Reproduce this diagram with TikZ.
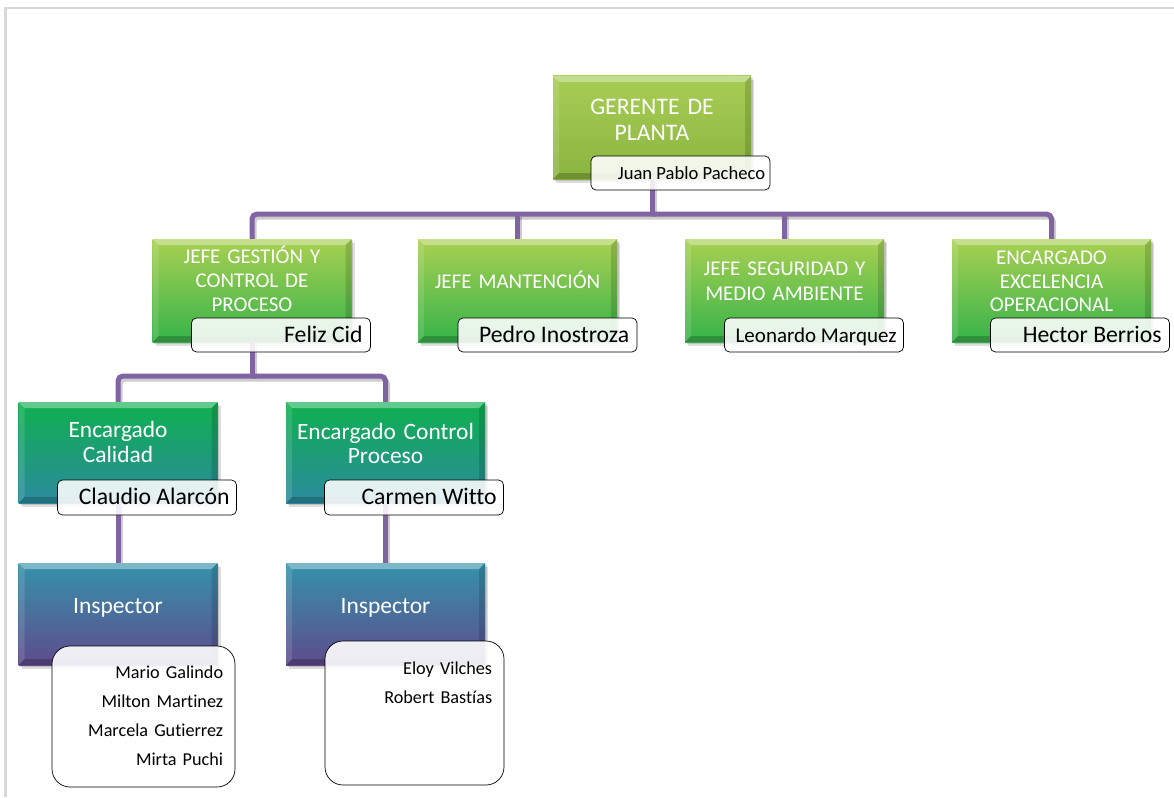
\documentclass[tikz,border=0pt]{standalone}
\usepackage{fontspec}
\setmainfont{Carlito}[Ligatures={NoCommon}]
\usetikzlibrary{shadows,calc}
\pgfdeclarelayer{background}
\pgfdeclarelayer{paper}
\pgfsetlayers{paper,background,main}

\definecolor{linkpurple}{HTML}{8064A2}
\definecolor{gAtop}{HTML}{A8CD55}
\definecolor{gAbot}{HTML}{8AB540}
\definecolor{gBtop}{HTML}{A9D051}
\definecolor{gBbot}{HTML}{36B34A}
\definecolor{gCtop}{HTML}{0FB04F}
\definecolor{gCbot}{HTML}{2B8A9E}
\definecolor{gDtop}{HTML}{3592AA}
\definecolor{gDbot}{HTML}{5F4B8D}

\tikzset{
  bevel/.style={path picture={
    \fill[white,opacity=.35] (path picture bounding box.north west) -- (path picture bounding box.north east)
      -- ([shift={(-6,6)}]path picture bounding box.north east) -- ([shift={(6,6)}]path picture bounding box.north west) -- cycle;
    \fill[white,opacity=.12] (path picture bounding box.north west) -- (path picture bounding box.south west)
      -- ([shift={(6,-6)}]path picture bounding box.south west) -- ([shift={(6,6)}]path picture bounding box.north west) -- cycle;
    \fill[black,opacity=.14] (path picture bounding box.north east) -- (path picture bounding box.south east)
      -- ([shift={(-6,-6)}]path picture bounding box.south east) -- ([shift={(-6,6)}]path picture bounding box.north east) -- cycle;
    \fill[black,opacity=.2] (path picture bounding box.south west) -- (path picture bounding box.south east)
      -- ([shift={(-6,-6)}]path picture bounding box.south east) -- ([shift={(6,-6)}]path picture bounding box.south west) -- cycle;
  }},
  box/.style={inner sep=0pt, bevel,
    drop shadow={shadow xshift=3pt, shadow yshift=-4pt, opacity=.18, fill=black!70},
    drop shadow={shadow xshift=1.5pt, shadow yshift=-2pt, opacity=.2, fill=black!70}},
  lvA/.style={box, minimum width=198pt, minimum height=103pt, top color=gAtop, bottom color=gAbot},
  lvB/.style={box, minimum width=199pt, minimum height=103pt, top color=gBtop, bottom color=gBbot},
  lvC/.style={box, minimum width=199pt, minimum height=101pt, top color=gCtop, bottom color=gCbot},
  lvD/.style={box, minimum width=199pt, minimum height=102pt, top color=gDtop, bottom color=gDbot},
  titletext/.style={text=white, text width=196pt, align=center, anchor=base, inner sep=0pt},
  namebox/.style={draw=black, line width=.7pt, fill=white, fill opacity=.88, rounded corners=5pt,
    minimum width=179pt, minimum height=34pt, inner sep=0pt},
  listbox/.style={draw=black, line width=.7pt, fill=white, fill opacity=.9, rounded corners=18pt, inner sep=0pt},
  nametext/.style={anchor=base east, inner sep=0pt, text=black, font=\fontsize{23.7}{28}\selectfont},
  listtext/.style={anchor=base east, inner sep=0pt, text=black, text width=170pt, align=right,
    font=\fontsize{18.2}{29}\selectfont},
  link/.style={draw=linkpurple, line width=5pt, rounded corners=5pt},
  linkshadow/.style={draw=black, opacity=.2, line width=5pt, rounded corners=5pt},
}

\begin{document}
\begin{tikzpicture}[x=1pt,y=-1pt]
\useasboundingbox (0,0) rectangle (1174,797);
\begin{pgfonlayer}{paper}
  \fill[white] (0,0) rectangle (1174,797);
  % page frame
  \draw[draw=black!15, line width=2.5pt] (1174,8) -- (5.5,8) -- (5.5,797);
\end{pgfonlayer}

% boxes
\node[lvA] (g)  at (652,127.5) {};
\node[lvB] (b1) at (252,290.5) {};
\node[lvB] (b2) at (517.5,290.5) {};
\node[lvB] (b3) at (784.5,290.5) {};
\node[lvB] (b4) at (1051.5,290.5) {};
\node[lvC] (c1) at (118,452.5) {};
\node[lvC] (c2) at (385.5,452.5) {};
\node[lvD] (d1) at (118,614) {};
\node[lvD] (d2) at (385.5,614) {};

\coordinate (bus1) at (652,214);
\coordinate (bus2) at (252,376);

% connectors
\begin{pgfonlayer}{background}
  \begin{scope}[transform canvas={xshift=2pt, yshift=-3pt}]
    \draw[linkshadow] (b1.north) |- (bus1) -| (b4.north);
    \draw[linkshadow] (g.south) -- (bus1);
    \draw[linkshadow] (b2.north) -- (b2.north |- bus1);
    \draw[linkshadow] (b3.north) -- (b3.north |- bus1);
    \draw[linkshadow] (c1.north) |- (bus2) -| (c2.north);
    \draw[linkshadow] (b1.south) -- (bus2);
    \draw[linkshadow] (c1.south) -- (d1.north);
    \draw[linkshadow] (c2.south) -- (d2.north);
  \end{scope}
  \draw[link] (b1.north) |- (bus1) -| (b4.north);
  \draw[link] (g.south) -- (bus1);
  \draw[link] (b2.north) -- (b2.north |- bus1);
  \draw[link] (b3.north) -- (b3.north |- bus1);
  \draw[link] (c1.north) |- (bus2) -| (c2.north);
  \draw[link] (b1.south) -- (bus2);
  \draw[link] (c1.south) -- (d1.north);
  \draw[link] (c2.south) -- (d2.north);
\end{pgfonlayer}

% titles
\node[titletext, font=\fontsize{23.7}{26}\selectfont] (tg) at ($(g.north)+(0,39)$) {GERENTE DE\\PLANTA};
\node[titletext, font=\fontsize{21}{24}\selectfont] (tb1) at ($(b1.north)+(0,25)$) {JEFE GESTIÓN Y\\CONTROL DE\\PROCESO};
\node[titletext, font=\fontsize{21}{24}\selectfont] (tb2) at ($(b2.north)+(0,50)$) {JEFE MANTENCIÓN};
\node[titletext, font=\fontsize{21}{25}\selectfont] (tb3) at ($(b3.north)+(0,37)$) {JEFE SEGURIDAD Y\\MEDIO AMBIENTE};
\node[titletext, font=\fontsize{21}{23.5}\selectfont] (tb4) at ($(b4.north)+(0,26)$) {ENCARGADO\\EXCELENCIA\\OPERACIONAL};
\node[titletext, font=\fontsize{23.4}{25}\selectfont] (tc1) at ($(c1.north)+(0,36)$) {Encargado\\Calidad};
\node[titletext, font=\fontsize{23.4}{23.5}\selectfont] (tc2) at ($(c2.north)+(0,38)$) {Encargado Control\\Proceso};
\node[titletext, font=\fontsize{23.5}{26}\selectfont] (td1) at ($(d1.north)+(0,51)$) {Inspector};
\node[titletext, font=\fontsize{23.5}{26}\selectfont] (td2) at ($(d2.north)+(0,51)$) {Inspector};

% name tags
\node[namebox] (ng)  at (680.5,173) {};
\node[namebox] (nb1) at (281,335) {};
\node[namebox] (nb2) at (547.5,335) {};
\node[namebox] (nb3) at (814,335) {};
\node[namebox] (nb4) at (1080,335) {};
\node[namebox, minimum height=35pt] (nc1) at (147,497.5) {};
\node[namebox, minimum height=35pt] (nc2) at (414,497.5) {};
\node[listbox, minimum width=183pt, minimum height=141pt] (nd1) at (143.5,716.5) {};
\node[listbox, minimum width=179pt, minimum height=144pt] (nd2) at (414.5,713) {};

\node[nametext, font=\fontsize{18.6}{22}\selectfont] (ngt) at ($(ng.south east)+(-5,-11)$) {Juan Pablo Pacheco};
\node[nametext] (nb1t) at ($(nb1.south east)+(-8,-10)$) {Feliz Cid};
\node[nametext] (nb2t) at ($(nb2.south east)+(-8,-10)$) {Pedro Inostroza};
\node[nametext, font=\fontsize{21}{25}\selectfont] (nb3t) at ($(nb3.south east)+(-7,-10)$) {Leonardo Marquez};
\node[nametext] (nb4t) at ($(nb4.south east)+(-8,-10)$) {Hector Berrios};
\node[nametext] (nc1t) at ($(nc1.south east)+(-7,-11)$) {Claudio Alarcón};
\node[nametext] (nc2t) at ($(nc2.south east)+(-7,-11)$) {Carmen Witto};
\node[listtext] (nd1t) at ($(nd1.north east)+(-12,33)$) {Mario Galindo\\Milton Martinez\\Marcela Gutierrez\\Mirta Puchi};
\node[listtext] (nd2t) at ($(nd2.north east)+(-12,34)$) {Eloy Vilches\\Robert Bastías};
\end{tikzpicture}
\end{document}
